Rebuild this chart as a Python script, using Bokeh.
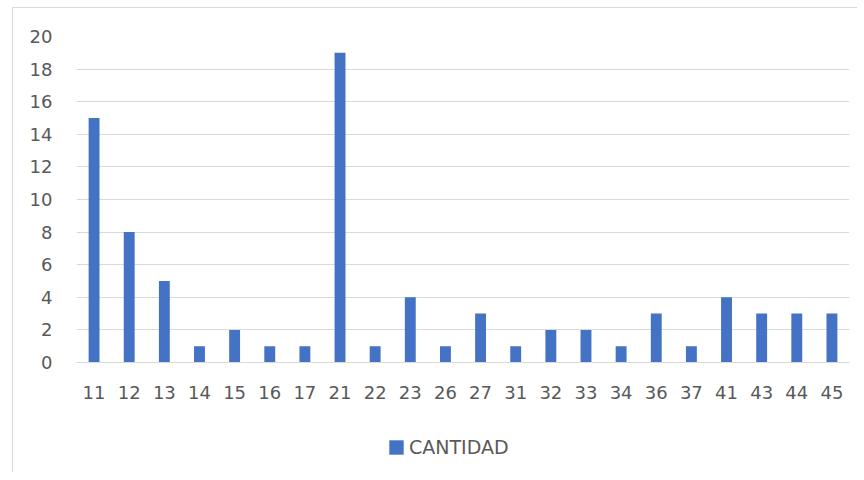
from bokeh.plotting import figure
from bokeh.models import ColumnDataSource, Legend, LegendItem, Range1d, FixedTicker
from bokeh.layouts import column
from bokeh.embed import file_html
from bokeh.resources import INLINE

categories = ["11", "12", "13", "14", "15", "16", "17", "21", "22", "23", "26",
              "27", "31", "32", "33", "34", "36", "37", "41", "43", "44", "45"]
cantidad = [15, 8, 5, 1, 2, 1, 1, 19, 1, 4, 1, 3, 1, 2, 2, 1, 3, 1, 4, 3, 3, 3]
y_ticks = [0, 2, 4, 6, 8, 10, 12, 14, 16, 18, 20]
series_name = "CANTIDAD"

FONT = "DejaVu Sans"
TXT = "#595959"
GRID = "#d9d9d9"
BLUE = "#4472c4"

source = ColumnDataSource(data=dict(cat=categories, val=cantidad))

p = figure(x_range=categories, y_range=Range1d(0, 20), width=844, height=419,
           output_backend="svg", toolbar_location=None,
           min_border_left=63, min_border_right=8, min_border_top=28, min_border_bottom=65)

p.vbar(x="cat", top="val", width=0.31, source=source, fill_color=BLUE, line_color=None)

p.outline_line_color = None
p.xgrid.grid_line_color = None
p.ygrid.grid_line_color = GRID
p.ygrid.grid_line_width = 1
p.yaxis.ticker = FixedTicker(ticks=y_ticks)

p.yaxis.axis_line_color = None
p.yaxis.major_tick_line_color = None
p.yaxis.minor_tick_line_color = None
p.yaxis.major_label_text_font = FONT
p.yaxis.major_label_text_font_size = "18px"
p.yaxis.major_label_text_color = TXT
p.yaxis.major_label_standoff = 18

p.xaxis.axis_line_color = GRID
p.xaxis.axis_line_width = 1
p.xaxis.major_tick_line_color = None
p.xaxis.minor_tick_line_color = None
p.xaxis.major_label_text_font = FONT
p.xaxis.major_label_text_font_size = "18px"
p.xaxis.major_label_text_color = TXT
p.xaxis.major_label_standoff = 17

# legend strip (bars lie outside its visible range, only the legend shows)
p2 = figure(x_range=categories, y_range=Range1d(100, 101), width=844, height=45,
            output_backend="svg", toolbar_location=None,
            min_border_left=0, min_border_right=0, min_border_top=0, min_border_bottom=0)
p2.axis.visible = False
p2.grid.visible = False
p2.outline_line_color = None
r2 = p2.vbar(x="cat", top="val", width=0.31, source=source, fill_color=BLUE, line_color=None)

legend = Legend(items=[LegendItem(label=series_name, renderers=[r2])],
                location=(311, 14), orientation="horizontal",
                label_text_font=FONT, label_text_font_size="19px", label_text_color=TXT,
                glyph_width=18, glyph_height=18, border_line_color=None,
                background_fill_alpha=0, margin=0, padding=0, label_standoff=4)
p2.add_layout(legend, "center")

layout = column(p, p2, spacing=0)
layout.styles = {"border-left": "1px solid #d9d9d9", "border-top": "1px solid #d9d9d9",
                 "margin-left": "12px", "margin-top": "7px"}

open("out.html", "w").write(file_html(layout, INLINE))
